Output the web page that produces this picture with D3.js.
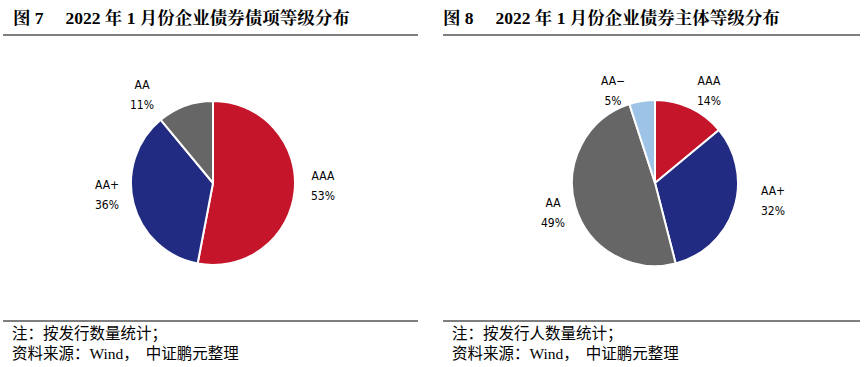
<!DOCTYPE html>
<html><head><meta charset="utf-8">
<script src="https://cdn.jsdelivr.net/npm/d3@7/dist/d3.min.js"></script>
<style>body{margin:0;background:#fff}svg{display:block}</style>
</head><body>
<svg id="c" width="865" height="367"></svg>
<script>
const titles = ["图 7\u2003 2022 年 1 月份企业债券债项等级分布", "图 8\u2003 2022 年 1 月份企业债券主体等级分布"];
const notes = ["注：按发行数量统计；", "注：按发行人数量统计；"];
const sourceParts = ["资料来源：", "Wind", "，", "中证鹏元整理"];
const cats1 = ["AAA", "AA+", "AA"];
const vals1 = [53, 36, 11];
const cats2 = ["AAA", "AA+", "AA", "AA−"];
const vals2 = [14, 32, 49, 5];
const colorMap = {"AAA": "#C4152A", "AA+": "#212B82", "AA": "#666666", "AA−": "#9DC3E6"};

const svg = d3.select("#c");
const panels = [
  {x0: 0, cats: cats1, vals: vals1, cx: 213, cy: 183, r: 82,
   labels: [[323, 176], [107, 185], [142, 85]], title: titles[0], note: notes[0], lx: [3, 418]},
  {x0: 430, cats: cats2, vals: vals2, cx: 655, cy: 183, r: 83,
   labels: [[709, 81], [773, 191], [553, 203], [613, 81]], title: titles[1], note: notes[1], lx: [443, 860]}
];

panels.forEach(p => {
  const g = svg.append("g");
  g.append("text").attr("x", p.x0 + 13).attr("y", 24)
    .attr("font-family", "'Liberation Serif','Noto Serif CJK SC','Noto Sans CJK SC',serif")
    .attr("font-weight", "bold").attr("font-size", 17.5).attr("fill", "#000").text(p.title);
  g.append("line").attr("x1", p.lx[0]).attr("x2", p.lx[1]).attr("y1", 35).attr("y2", 35)
    .attr("stroke", "#000").attr("stroke-width", 1.2);
  g.append("line").attr("x1", p.lx[0]).attr("x2", p.lx[1]).attr("y1", 321).attr("y2", 321)
    .attr("stroke", "#000").attr("stroke-width", 1.2);
  g.append("text").attr("x", p.lx[0] + 9).attr("y", 339)
    .attr("font-family", "'Noto Sans CJK SC',sans-serif").attr("font-size", 15.5).text(p.note);
  const s = g.append("text").attr("x", p.lx[0] + 9).attr("y", 359)
    .attr("font-family", "'Noto Sans CJK SC',sans-serif").attr("font-size", 15.5);
  s.append("tspan").text(sourceParts[0]);
  s.append("tspan").attr("font-family", "'Liberation Serif',serif").text(sourceParts[1]);
  s.append("tspan").text(sourceParts[2]);
  s.append("tspan").attr("dx", 7).text(sourceParts[3]);

  const data = p.cats.map((c, i) => ({cat: c, v: p.vals[i]}));
  const pie = d3.pie().value(d => d.v).sort(null);
  const arc = d3.arc().innerRadius(0).outerRadius(p.r);
  const arcs = pie(data);
  const pg = g.append("g").attr("transform", `translate(${p.cx},${p.cy})`);
  pg.selectAll("path").data(arcs).join("path")
    .attr("d", arc).attr("fill", d => colorMap[d.data.cat])
    .attr("stroke", "#fff").attr("stroke-width", 2).attr("stroke-linejoin", "round");

  arcs.forEach((a, i) => {
    const [lx, ly] = p.labels[i];
    const t = g.append("text").attr("text-anchor", "middle")
      .attr("font-family", "'DejaVu Sans Condensed','DejaVu Sans',sans-serif")
      .attr("font-size", 12).attr("fill", "#000");
    t.append("tspan").attr("x", lx).attr("y", ly + 4).text(a.data.cat);
    t.append("tspan").attr("x", lx).attr("y", ly + 24).text(a.data.v + "%");
  });
});
</script>
</body></html>
